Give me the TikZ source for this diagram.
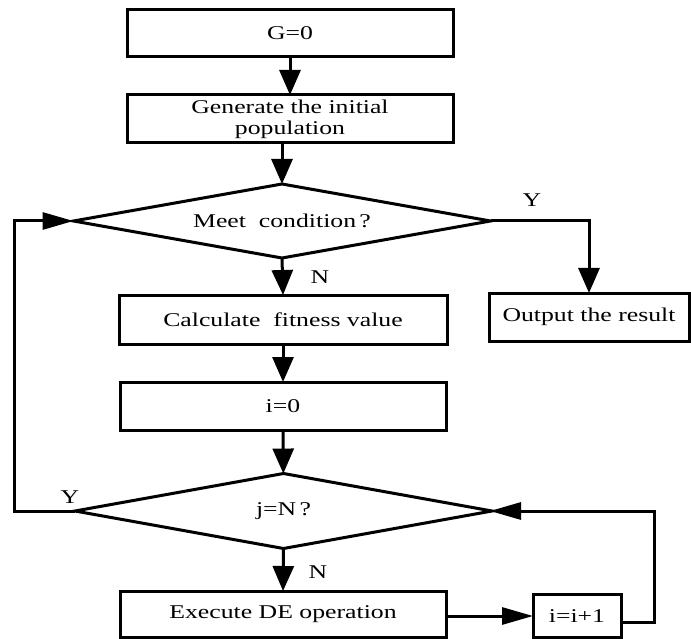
\documentclass[tikz,border=0pt]{standalone}
\usepackage{fontspec}
\setmainfont{Liberation Serif}[FakeStretch=1.32]
\usetikzlibrary{shapes.geometric,arrows.meta}
\begin{document}
\begin{tikzpicture}[x=1pt,y=-1pt,
  every node/.style={font=\fontsize{19.5}{21}\selectfont},
  box/.style={draw, line width=3pt, rectangle, inner sep=0pt, outer sep=0pt, align=center},
  dia/.style={draw, line width=3pt, diamond, aspect=5.6, inner sep=0pt, outer sep=0pt},
  lbl/.style={inner sep=0pt},
  conn/.style={line width=3pt},
  varrow/.style={conn, -{Triangle[length=25pt,width=21pt]}},
  harrow/.style={conn, -{Triangle[length=31pt,width=17pt]}}]
\useasboundingbox (0,0) rectangle (691,639);
\node[box, minimum width=326pt, minimum height=47pt] (g0) at (290,33.5) {G=0};
\node[box, minimum width=326pt, minimum height=48pt] (gen) at (290,119) {Generate the initial\\population};
\node[dia, minimum width=417pt, minimum height=74pt] (d1) at (282,221) {Meet\ \ condition\,?};
\node[box, minimum width=328pt, minimum height=49pt] (calc) at (283,319.5) {Calculate\ \ fitness value};
\node[box, minimum width=200pt, minimum height=48pt] (out) at (589,317) {Output the result};
\node[box, minimum width=326pt, minimum height=48pt] (i0) at (283,406) {i=0};
\node[dia, minimum width=417pt, minimum height=75pt] (d2) at (283.5,511) {j=N\,?};
\node[box, minimum width=326pt, minimum height=46pt] (exe) at (283,614) {Execute DE operation};
\node[box, minimum width=88pt, minimum height=43pt] (inc) at (577,616) {i=i+1};
\node[lbl] (y1) at (532,200) {Y};
\node[lbl] (n1) at (320,277) {N};
\node[lbl] (y2) at (70,497) {Y};
\node[lbl] (n2) at (318,572) {N};
\draw[varrow] (g0) -- (gen);
\draw[varrow] (gen.south -| d1.north) -- (d1.north);
\draw[varrow] (d1.east) -| (out.north);
\draw[varrow] (d1.south) -- (calc.north);
\draw[varrow] (calc) -- (i0);
\draw[varrow] (i0) -- (d2);
\draw[varrow] (d2.south) -- (exe.north);
\draw[harrow] (exe.east |- inc.west) -- (inc.west);
\draw[harrow, shorten >=-2pt] (inc.east) ++(0,6) coordinate (incr) -- ++(33,0) |- (d2.east);
\draw[harrow] (d2.west) -- ++(-61,0) |- (d1.west);
\end{tikzpicture}
\end{document}
